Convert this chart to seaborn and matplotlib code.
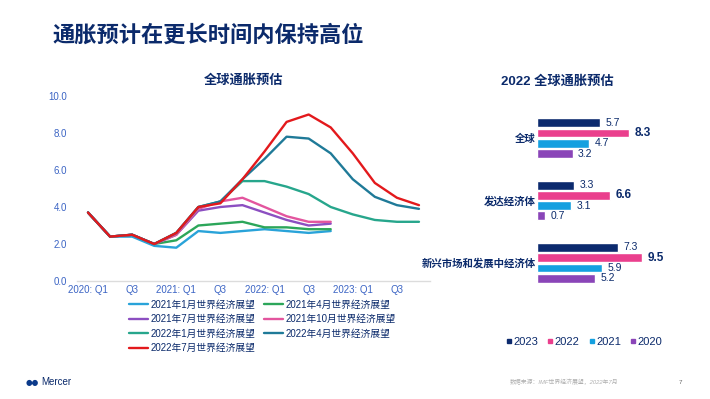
import numpy as np
import pandas as pd
import matplotlib
matplotlib.use("Agg")
import matplotlib.pyplot as plt
from matplotlib.lines import Line2D
import seaborn as sns

sns.set_theme(style="white")
plt.rcParams["font.family"] = ["Liberation Sans", "Noto Sans CJK SC", "DejaVu Sans"]

NAVY = "#0b2a6b"
TICK_BLUE = "#3b64c4"

# ---- left chart data: IMF WEO global inflation forecasts, by vintage ----
quarters = ["2020Q1", "2020Q2", "2020Q3", "2020Q4",
            "2021Q1", "2021Q2", "2021Q3", "2021Q4",
            "2022Q1", "2022Q2", "2022Q3", "2022Q4",
            "2023Q1", "2023Q2", "2023Q3", "2023Q4"]
tick_labels = ["2020: Q1", "Q3", "2021: Q1", "Q3", "2022: Q1", "Q3", "2023: Q1", "Q3"]

weo_2021_01 = [3.7, 2.4, 2.4, 1.9, 1.8, 2.7, 2.6, 2.7, 2.8, 2.7, 2.6, 2.7]
weo_2021_04 = [3.7, 2.4, 2.5, 2.0, 2.2, 3.0, 3.1, 3.2, 2.9, 2.9, 2.8, 2.8]
weo_2021_07 = [3.7, 2.4, 2.5, 2.0, 2.5, 3.8, 4.0, 4.1, 3.7, 3.3, 3.0, 3.1]
weo_2021_10 = [3.7, 2.4, 2.5, 2.0, 2.5, 3.9, 4.3, 4.5, 4.0, 3.5, 3.2, 3.2]
weo_2022_01 = [3.7, 2.4, 2.5, 2.0, 2.6, 4.0, 4.3, 5.4, 5.4, 5.1, 4.7, 4.0,
               3.6, 3.3, 3.2, 3.2]
weo_2022_04 = [3.7, 2.4, 2.5, 2.0, 2.6, 4.0, 4.3, 5.5, 6.6, 7.8, 7.7, 6.9,
               5.5, 4.55, 4.1, 3.9]
weo_2022_07 = [3.7, 2.4, 2.5, 2.0, 2.6, 4.0, 4.2, 5.5, 7.0, 8.6, 9.0, 8.3,
               6.9, 5.3, 4.5, 4.1]

series_names = ["2021年1月世界经济展望", "2021年4月世界经济展望",
                "2021年7月世界经济展望", "2021年10月世界经济展望",
                "2022年1月世界经济展望", "2022年4月世界经济展望",
                "2022年7月世界经济展望"]
series_values = [weo_2021_01, weo_2021_04, weo_2021_07, weo_2021_10,
                 weo_2022_01, weo_2022_04, weo_2022_07]
line_colors = ["#29a3d9", "#2ca65a", "#8c4fc1", "#e3559e",
               "#27a68c", "#1f7a98", "#e3191c"]

# ---- right chart data: 2022 WEO forecasts ----
regions = ["全球", "发达经济体", "新兴市场和发展中经济体"]
years = ["2023", "2022", "2021", "2020"]
val_2023 = [5.7, 3.3, 7.3]
val_2022 = [8.3, 6.6, 9.5]
val_2021 = [4.7, 3.1, 5.9]
val_2020 = [3.2, 0.7, 5.2]
bar_colors = ["#0c2a6e", "#ea3f8d", "#14a0e0", "#8a45b8"]

rows = []
for name, vals in zip(series_names, series_values):
    for i, v in enumerate(vals):
        rows.append({"q": i, "value": v, "forecast": name})
df_line = pd.DataFrame(rows)

rows = []
for y, vals in zip(years, [val_2023, val_2022, val_2021, val_2020]):
    for r, v in zip(regions, vals):
        rows.append({"region": r, "year": y, "value": v})
df_bar = pd.DataFrame(rows)

W, H = 710, 399
fig = plt.figure(figsize=(W / 100, H / 100), dpi=100)

# ---------------- line chart ----------------
ax1 = fig.add_axes([77 / W, 1 - 281 / H, (430 - 77) / W, (281 - 96) / H])
sns.lineplot(data=df_line, x="q", y="value", hue="forecast",
             hue_order=series_names, palette=line_colors,
             linewidth=1.7, ax=ax1)
handles, labels = ax1.get_legend_handles_labels()
ax1.get_legend().remove()

ax1.set_xlim(-0.5, len(quarters) - 0.5)
ax1.set_ylim(0, 10)
ax1.set_xticks(range(0, len(quarters), 2))
ax1.set_xticklabels(tick_labels)
ax1.set_yticks(np.arange(0, 10.1, 2))
ax1.set_yticklabels([f"{v:.1f}" for v in np.arange(0, 10.1, 2)])
ax1.set_xlabel("")
ax1.set_ylabel("")
ax1.tick_params(axis="both", length=0, labelsize=7, labelcolor=TICK_BLUE)
ax1.tick_params(axis="y", pad=7)
ax1.tick_params(axis="x", pad=3)
for s in ["top", "right", "left"]:
    ax1.spines[s].set_visible(False)
ax1.spines["bottom"].set_color("#dcdcdc")
ax1.spines["bottom"].set_linewidth(1.0)

# legend filled row by row (2 columns)
order = [0, 2, 4, 6, 1, 3, 5]
leg1 = fig.legend([handles[i] for i in order], [labels[i] for i in order],
                  ncol=2, loc="upper left", bbox_to_anchor=(125 / W, 1 - 296 / H),
                  frameon=False, fontsize=7, handlelength=2.0, handletextpad=0.2,
                  columnspacing=0.9, labelspacing=0.45, borderaxespad=0)
for t in leg1.get_texts():
    t.set_color(NAVY)

fig.text(244 / W, 1 - 80 / H, "全球通胀预估", ha="center", va="center",
         fontsize=9.5, fontweight="bold", color=NAVY)

# ---------------- bar chart ----------------
ax2 = fig.add_axes([537 / W, 1 - 294 / H, 111 / W, (294 - 107) / H])
sns.barplot(data=df_bar, y="region", x="value", hue="year",
            order=regions, hue_order=years, palette=bar_colors,
            orient="h", width=0.66, gap=0.13, saturation=1,
            legend=False, ax=ax2)
ax2.set_xlim(0, 10)
ax2.set_ylim(2.5, -0.5)
ax2.set_xticks([])
ax2.set_xlabel("")
ax2.set_ylabel("")
ax2.tick_params(axis="y", length=0, pad=1, labelsize=7.5, labelcolor=NAVY)
for t in ax2.get_yticklabels():
    t.set_fontweight("bold")
for s in ax2.spines.values():
    s.set_visible(False)
for year, cont in zip(years, ax2.containers):
    if year == "2022":
        ax2.bar_label(cont, fmt="%.1f", padding=4, fontsize=8.5,
                      fontweight="bold", color=NAVY, clip_on=False)
    else:
        ax2.bar_label(cont, fmt="%.1f", padding=4, fontsize=7.5,
                      color=NAVY, clip_on=False)

fig.text(557 / W, 1 - 81 / H, "2022 全球通胀预估", ha="center", va="center",
         fontsize=9.5, fontweight="bold", color=NAVY)

bar_handles = [Line2D([], [], marker="s", linestyle="none", markersize=3.5,
                      color=c) for c in bar_colors]
leg2 = fig.legend(bar_handles, years, ncol=4, loc="center",
                  bbox_to_anchor=(584 / W, 1 - 342 / H), frameon=False,
                  fontsize=8, handlelength=0.6, handletextpad=0.1,
                  columnspacing=0.8, borderaxespad=0)
for t in leg2.get_texts():
    t.set_color(NAVY)

# ---------------- page furniture ----------------
fig.text(52 / W, 1 - 36 / H, "通胀预计在更长时间内保持高位", ha="left", va="center",
         fontsize=16, fontweight="bold", color=NAVY)
fig.text(26 / W, 1 - 382 / H, "●●", ha="left", va="center", fontsize=5.5,
         color="#0b3a8a", family=["DejaVu Sans"])
fig.text(41 / W, 1 - 382 / H, "Mercer", ha="left", va="center", fontsize=7,
         color="#0b2a6b")
fig.text(510 / W, 1 - 382 / H, "数据来源：IMF世界经济展望，2022年7月", ha="left",
         va="center", fontsize=4.2, color="#b0b0b0", style="italic")
fig.text(680 / W, 1 - 382 / H, "7", ha="center", va="center", fontsize=4.5,
         color="#666666")

fig.savefig("out.png", dpi=100)
